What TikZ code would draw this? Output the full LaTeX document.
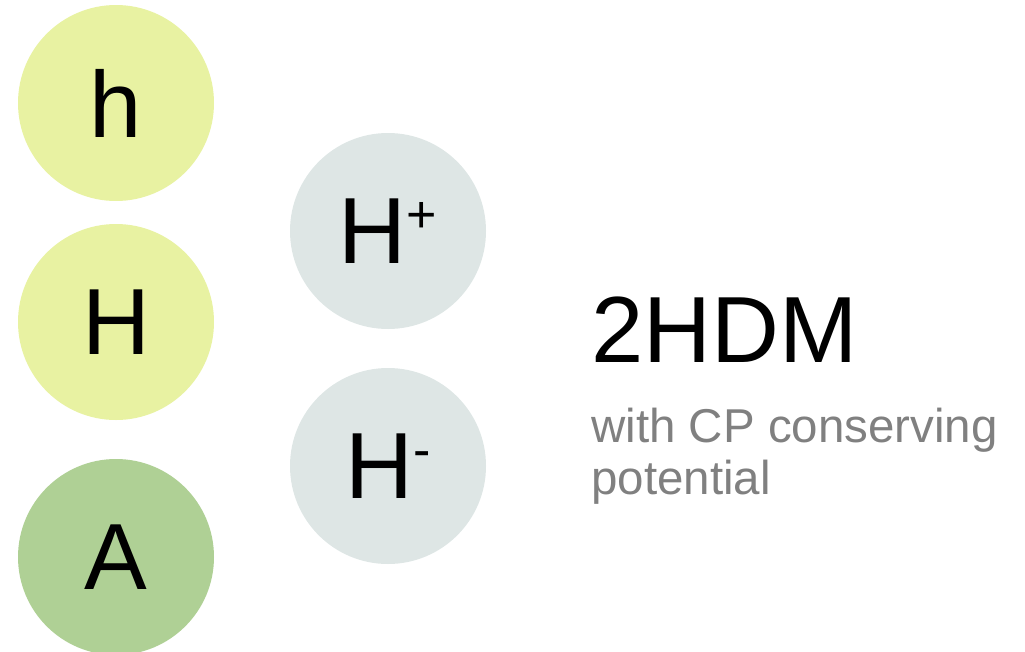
\documentclass[tikz,border=0pt]{standalone}
\usepackage{fontspec}
\setmainfont{Liberation Sans}
\definecolor{lightlime}{HTML}{E8F2A2}
\definecolor{leafgreen}{HTML}{AFD095}
\definecolor{palegrey}{HTML}{DEE6E5}
\definecolor{subgrey}{HTML}{808080}
\newcommand{\chg}[1]{\raisebox{31pt}{\fontsize{52}{52}\selectfont #1}}
\begin{document}
\begin{tikzpicture}[x=1pt, y=-1pt, particle/.style={circle,minimum size=196pt,inner sep=0pt,font=\fontsize{94}{100}\selectfont}]%
\useasboundingbox (0,0) rectangle (1025,651);
\clip (0,0) rectangle (1025,651);
\begin{scope}
\node[particle, fill=lightlime] (h) at (116,103) {h};
\node[particle, fill=lightlime] (H) at (116,322) {H};
\node[particle, fill=leafgreen] (A) at (116,557) {A};
\node[particle, fill=palegrey] (Hp) at (388,231) {H\chg{+}};
\node[particle, fill=palegrey] (Hm) at (388,466) {H\chg{-}};
\end{scope}
\begin{scope}[every node/.style={anchor=base west,inner sep=0pt}]
\node[font=\fontsize{94}{100}\selectfont] (model) at (591,362) {2HDM};
\node[font=\fontsize{47.5}{54}\selectfont,text=subgrey] (sub1) at (591,442) {with CP conserving};
\node[font=\fontsize{47.5}{54}\selectfont,text=subgrey] (sub2) at (591,494) {potential};
\end{scope}
\end{tikzpicture}
\end{document}
